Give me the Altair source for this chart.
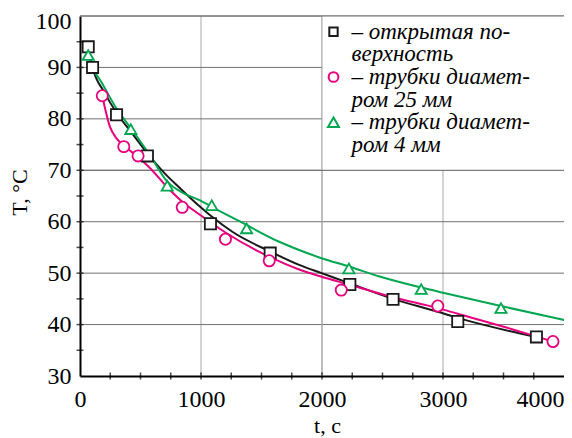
import altair as alt
import pandas as pd

# ---- data ----
series = ["– открытая по-|верхность", "– трубки диамет-|ром 25 мм", "– трубки диамет-|ром 4 мм"]
colors = ["#1a1a1a", "#e6007e", "#00a650"]
shapes = ["square", "circle", "triangle-up"]

# markers
sq_t = [68, 104, 302, 557, 1078, 1572, 2230, 2587, 3122, 3772]
sq_T = [94.0, 90.0, 80.8, 72.8, 59.6, 53.9, 47.8, 44.9, 40.6, 37.6]
ci_t = [184, 362, 480, 845, 1202, 1564, 2159, 2957, 3909]
ci_T = [84.5, 74.6, 72.8, 62.8, 56.6, 52.4, 46.7, 43.6, 36.7]
tr_t = [68, 420, 721, 1089, 1377, 2222, 2820, 3479]
tr_T = [92.4, 78.0, 67.0, 63.2, 58.7, 50.9, 46.9, 43.2]

# fitted curves
bl_t = [68, 104, 200, 302, 420, 557, 700, 823, 988, 1078, 1262, 1572, 1811, 1997, 2230, 2587, 2957, 3122, 3557, 3772]
bl_T = [94.0, 90.0, 85.2, 81.2, 77.5, 73.3, 69.4, 66.6, 63.0, 61.2, 58.0, 54.2, 51.6, 50.0, 48.0, 45.0, 42.5, 41.3, 38.7, 37.6]
mg_t = [184, 247, 302, 362, 480, 576, 713, 845, 988, 1202, 1564, 1811, 1997, 2222, 2587, 2957, 3122, 3557, 3909]
mg_T = [84.5, 78.5, 76.2, 74.8, 72.6, 70.5, 66.9, 63.9, 61.4, 57.9, 53.2, 50.7, 49.3, 47.8, 45.3, 43.2, 42.1, 39.2, 36.7]
gr_t = [68, 110, 165, 302, 420, 576, 721, 850, 988, 1089, 1317, 1646, 1811, 1997, 2222, 2469, 2820, 3018, 3479, 4000]
gr_T = [92.4, 89.6, 87.6, 82.0, 78.2, 73.0, 67.8, 65.6, 64.2, 62.9, 60.1, 56.1, 54.5, 52.9, 51.3, 49.4, 47.2, 46.1, 43.6, 40.9]

x_labels = [0, 1000, 2000, 3000, 4000]
y_labels = [30, 40, 50, 60, 70, 80, 90, 100]
x_grid = [1000, 2000, 3000]
y_grid = [40, 50, 60, 70, 80, 90, 100]
x_ticks = [250, 500, 750, 1000, 1250, 1500, 1750, 2000, 2250, 2500, 2750, 3000, 3250, 3500, 3750]
y_ticks = [35, 40, 45, 50, 55, 60, 65, 70, 75, 80, 85, 90, 95]

# ---- tables ----
pts = pd.concat([
    pd.DataFrame({"t": sq_t, "T": sq_T, "s": series[0]}),
    pd.DataFrame({"t": ci_t, "T": ci_T, "s": series[1]}),
    pd.DataFrame({"t": tr_t, "T": tr_T, "s": series[2]}),
])
curves = pd.concat([
    pd.DataFrame({"t": bl_t, "T": bl_T, "s": series[0]}),
    pd.DataFrame({"t": mg_t, "T": mg_T, "s": series[1]}),
    pd.DataFrame({"t": gr_t, "T": gr_T, "s": series[2]}),
])
leg = pd.DataFrame({"s": series, "i": list(range(len(series)))})
leg_text = pd.DataFrame({"txt": ["|".join(series)]})

FONT = "Liberation Serif"
xs = alt.Scale(domain=[0, 4000], nice=False, zero=False)
ys = alt.Scale(domain=[30, 100], nice=False, zero=False)
stroke_scale = alt.Scale(domain=series, range=colors)
shape_scale = alt.Scale(domain=series, range=shapes)

x_axis = alt.Axis(
    values=x_labels, format="d", grid=False, ticks=False, domainColor="black", domainWidth=2,
    labelFont=FONT, labelFontSize=24, labelColor="black", labelPadding=11, labelFlush=False,
    labelAlign={"condition": {"test": "datum.value == 4000", "value": "right"}, "value": "center"},
    title="t,  с", titleFont=FONT, titleFontSize=22, titleFontWeight="normal", titleColor="black",
    titleX=247, titleY=56, titleBaseline="alphabetic", titleAlign="center",
)
y_axis = alt.Axis(
    values=y_labels, format="d", grid=False, ticks=False, domainColor="black", domainWidth=2,
    labelFont=FONT, labelFontSize=24, labelColor="black", labelPadding=9,
    labelOffset={"condition": {"test": "datum.value == 100", "value": 5}, "value": 0},
    title="T, °C", titleFont=FONT, titleFontSize=22, titleFontWeight="normal", titleColor="black",
    titleX=-54, titleY=176, titleBaseline="alphabetic", titleAlign="center", titleAngle=270,
)

vg_df = pd.DataFrame({"v": x_grid})
hg_df = pd.DataFrame({"v": y_grid})

vgrid = alt.Chart(vg_df).mark_rule(color="#a8a8a8", strokeWidth=1).encode(
    x=alt.X("v:Q", scale=xs, axis=x_axis))
hgrid = alt.Chart(hg_df).mark_rule(color="#707070", strokeWidth=1).encode(
    y=alt.Y("v:Q", scale=ys, axis=y_axis))
box = alt.Chart(pd.DataFrame({"a": [0]})).mark_rect(fill="white").encode(
    x=alt.XDatum(2000, axis=x_axis), x2=alt.X2Datum(4000),
    y=alt.YDatum(70, axis=y_axis), y2=alt.Y2Datum(100))
vgrid2 = alt.Chart(vg_df).mark_rule(color="#a8a8a8", strokeWidth=1).encode(
    x=alt.X("v:Q", scale=xs, axis=x_axis)).transform_filter("datum.v == 2000")
hgrid2 = alt.Chart(hg_df).mark_rule(color="#707070", strokeWidth=1).encode(
    y=alt.Y("v:Q", scale=ys, axis=y_axis)).transform_filter("datum.v == 70 || datum.v == 100")

lines = alt.Chart(curves).mark_line(strokeWidth=2, interpolate="monotone").encode(
    x=alt.X("t:Q", scale=xs, axis=x_axis),
    y=alt.Y("T:Q", scale=ys, axis=y_axis),
    color=alt.Color("s:N", scale=stroke_scale, legend=None),
    order="t:Q",
)

points = alt.Chart(pts).mark_point(filled=False, fill="white", strokeWidth=1.8, size=125, opacity=1).encode(
    x=alt.X("t:Q", scale=xs, axis=x_axis),
    y=alt.Y("T:Q", scale=ys, axis=y_axis),
    stroke=alt.Stroke("s:N", scale=stroke_scale, legend=None),
    shape=alt.Shape("s:N", scale=shape_scale, legend=None),
)

xt = alt.Chart(pd.DataFrame({"v": x_ticks})).mark_tick(orient="vertical", size=7, thickness=1.5, color="black").encode(
    x=alt.X("v:Q", scale=xs, axis=x_axis), y=alt.YDatum(30, axis=y_axis))
yt = alt.Chart(pd.DataFrame({"v": y_ticks})).mark_tick(orient="horizontal", size=7, thickness=1.5, color="black").encode(
    y=alt.Y("v:Q", scale=ys, axis=y_axis), x=alt.XDatum(0, axis=x_axis))

# ---- legend (drawn as marks inside the white box) ----
LH = 22.65
leg_sym = alt.Chart(leg).transform_calculate(ly=f"15.7 + {2 * LH} * datum.i").mark_point(
    filled=False, fill="white", strokeWidth=2, opacity=1).encode(
    x=alt.value(253.5),
    y=alt.Y("ly:Q", scale=None, axis=None),
    stroke=alt.Stroke("s:N", scale=stroke_scale, legend=None),
    shape=alt.Shape("s:N", scale=shape_scale, legend=None),
    size=alt.Size("s:N", scale=alt.Scale(domain=series, range=[70, 120, 150]), legend=None),
)
leg_txt = alt.Chart(leg_text).mark_text(
    align="left", baseline="middle", lineBreak="|", lineHeight=LH,
    font=FONT, fontStyle="italic", fontSize=23, color="black",
).encode(
    x=alt.value(271.5),
    y=alt.value(15.7),
    text="txt:N",
)

chart = alt.layer(vgrid, hgrid, box, vgrid2, hgrid2, lines, points, xt, yt, leg_sym, leg_txt).properties(
    width=484, height=360, autosize="none",
    padding={"left": 72, "top": 8, "right": 0, "bottom": 62},
).configure_view(stroke=None)

chart.save("out.html", embed_options={"renderer": "svg", "actions": False})
